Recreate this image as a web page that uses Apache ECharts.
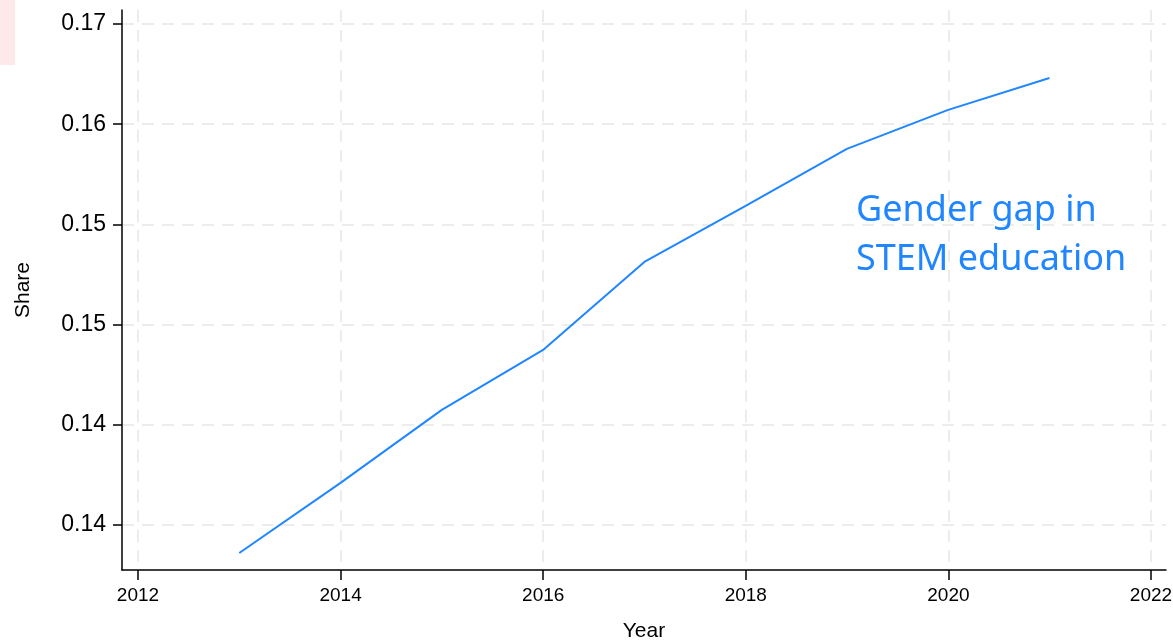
<!DOCTYPE html>
<html>
<head>
<meta charset="utf-8">
<script src="https://cdn.jsdelivr.net/npm/echarts@6/dist/echarts.min.js"></script>
<style>
  html, body { margin: 0; padding: 0; background: #fff; }
  #chart { width: 1173px; height: 640px; }
</style>
</head>
<body>
<div id="chart"></div>
<script>
const years = [2013, 2014, 2015, 2016, 2017, 2018, 2019, 2020, 2021];
const shareValues = [0.13432, 0.13852, 0.14289, 0.14648, 0.15175, 0.15511, 0.15852, 0.16086, 0.16277];
const yTickMin = 0.136, yTickMax = 0.166, yTickStep = 0.006;
const xTickMin = 2012, xTickMax = 2022, xTickStep = 2;
const seriesLabel = ['Gender gap in', 'STEM education'];

const FONT = 'Liberation Sans, Arial, Helvetica, sans-serif';
const gridStyle = { color: '#ececec', width: 2, type: [12, 8] };

const chart = echarts.init(document.getElementById('chart'), null, { renderer: 'canvas' });
chart.setOption({
  backgroundColor: '#ffffff',
  animation: false,
  grid: [
    { left: 122, right: 7, top: 10, bottom: 70, containLabel: false, outerBoundsMode: 'none' },
    { left: 122, right: 7, top: 24, bottom: 115, containLabel: false, outerBoundsMode: 'none' },
    { left: 138, right: 22, top: 10, bottom: 70, containLabel: false, outerBoundsMode: 'none' }
  ],
  xAxis: [
    { gridIndex: 0, type: 'value', min: 2011.842, max: 2022.151,
      axisLine: { show: true, onZero: false, lineStyle: { color: '#000', width: 1.5 } },
      axisTick: { show: false }, axisLabel: { show: false }, splitLine: { show: false },
      name: 'Year', nameLocation: 'middle', nameGap: 51,
      nameTextStyle: { fontFamily: FONT, fontSize: 21, color: '#000' } },
    { gridIndex: 1, type: 'value', min: 0, max: 1, show: false },
    { gridIndex: 2, type: 'value', min: xTickMin, max: xTickMax, interval: xTickStep,
      axisLine: { show: false },
      axisTick: { show: true, length: 10, lineStyle: { color: '#000', width: 1.5 } },
      axisLabel: { show: true, margin: 16, fontFamily: FONT, fontSize: 19, color: '#000',
        formatter: v => String(Math.round(v)) },
      splitLine: { show: true, lineStyle: gridStyle } }
  ],
  yAxis: [
    { gridIndex: 0, type: 'value', min: 0.133305, max: 0.166838,
      axisLine: { show: true, onZero: false, lineStyle: { color: '#000', width: 1.5 } },
      axisTick: { show: false }, axisLabel: { show: false }, splitLine: { show: false },
      name: 'Share', nameLocation: 'middle', nameGap: 88, nameRotate: 90,
      nameTextStyle: { fontFamily: FONT, fontSize: 21, color: '#000' } },
    { gridIndex: 1, type: 'value', min: yTickMin, max: yTickMax, interval: yTickStep,
      axisLine: { show: false },
      axisTick: { show: true, length: 9, lineStyle: { color: '#000', width: 1.5 } },
      axisLabel: { show: true, margin: 16, fontFamily: FONT, fontSize: 23, color: '#000',
        formatter: v => v.toFixed(2) },
      splitLine: { show: true, lineStyle: gridStyle } },
    { gridIndex: 2, type: 'value', min: 0, max: 1, show: false }
  ],
  series: [
    { type: 'line', xAxisIndex: 0, yAxisIndex: 0,
      data: years.map((y, i) => [y, shareValues[i]]),
      showSymbol: false, symbol: 'none',
      lineStyle: { color: '#1f86ff', width: 2 }, z: 5 }
  ],
  graphic: [
    { type: 'rect', left: 0, top: 0, shape: { width: 15, height: 65 },
      style: { fill: '#fde9e9' }, z: 1 },
    { type: 'text', left: 856, top: 186, z: 10,
      style: { text: seriesLabel.join('\n'), fill: '#1f86ff', font: '36px "Noto Sans", "Open Sans", sans-serif',
        lineHeight: 49 } }
  ]
});
</script>
</body>
</html>
